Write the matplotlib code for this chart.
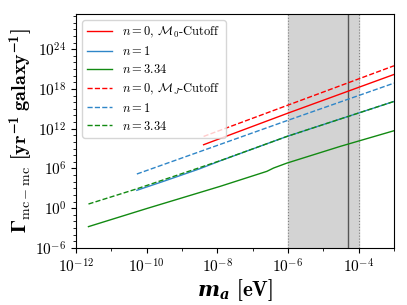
import numpy as np
import matplotlib
matplotlib.use("Agg")
import matplotlib.pyplot as plt

plt.rcParams['mathtext.fontset'] = 'cm'
plt.rcParams['font.family'] = 'serif'
plt.rcParams['font.serif'] = ['cmr10', 'DejaVu Serif']
plt.rcParams['axes.formatter.use_mathtext'] = True
plt.rcParams['axes.unicode_minus'] = False
plt.rcParams['mathtext.bfit'] = 'DejaVu Serif:italic:bold'
plt.rcParams['mathtext.rm'] = 'cmr10'
plt.rcParams['mathtext.it'] = 'cmmi10'
plt.rcParams['mathtext.bf'] = 'cmb10'
plt.rcParams['mathtext.fallback'] = 'stix'

# --- data ---
# n=0, M0-cutoff (solid red)
m_red_solid = [10**-8.39, 10**-6.0, 10**-3.0]
g_red_solid = [10**9.58, 10**14.35, 10**20.18]
# n=1 (solid blue)
m_blue_solid = [10**-10.28, 10**-9.5, 10**-8.5, 10**-7.92, 10**-6.03, 10**-3.0]
g_blue_solid = [10**2.70, 10**4.10, 10**5.95, 10**7.15, 10**10.83, 10**16.11]
# n=3.34 (solid green)
m_green_solid = [10**-11.65, 10**-10.0, 10**-7.92, 10**-6.6, 10**-6.41, 10**-6.03, 10**-4.52, 10**-3.0]
g_green_solid = [10**-2.78, 10**-0.05, 10**3.30, 10**5.56, 10**6.06, 10**6.81, 10**9.33, 10**11.69]
# n=0, MJ-cutoff (dashed red)
m_red_dash = [10**-8.39, 10**-3.0]
g_red_dash = [10**10.83, 10**21.49]
# n=1 (dashed blue)
m_blue_dash = [10**-10.28, 10**-6.01, 10**-3.0]
g_blue_dash = [10**5.16, 10**13.25, 10**18.87]
# n=3.34 (dashed green)
m_green_dash = [10**-11.65, 10**-10.30, 10**-7.92, 10**-6.03, 10**-3.0]
g_green_dash = [10**0.63, 10**2.89, 10**7.17, 10**10.83, 10**16.11]

band_lo, band_hi = 1e-6, 1e-4
m_vline = 5e-5

labels = [r'$n=0$, $\mathcal{M}_0$-Cutoff', r'$n=1$', r'$n=3.34$',
          r'$n=0$, $\mathcal{M}_J$-Cutoff', r'$n=1$', r'$n=3.34$']

red = '#ff0000'
blue = '#2f86c8'
green = '#128a12'

fig = plt.figure(figsize=(4.07, 3.05), dpi=100)
ax = fig.add_axes([0.187, 0.187, 0.781, 0.767])

ax.axvspan(band_lo, band_hi, color='lightgray', zorder=0)
ax.axvline(band_lo, color='gray', ls=':', lw=0.8, zorder=1)
ax.axvline(band_hi, color='gray', ls=':', lw=0.8, zorder=1)
ax.axvline(m_vline, color='#555555', ls='-', lw=1.0, zorder=1)

lw = 1.0
ax.plot(m_red_solid, g_red_solid, color=red, lw=lw, label=labels[0])
ax.plot(m_blue_solid, g_blue_solid, color=blue, lw=lw, label=labels[1])
ax.plot(m_green_solid, g_green_solid, color=green, lw=lw, label=labels[2])
ax.plot(m_red_dash, g_red_dash, color=red, lw=lw, ls='--', label=labels[3])
ax.plot(m_blue_dash, g_blue_dash, color=blue, lw=lw, ls='--', label=labels[4])
ax.plot(m_green_dash, g_green_dash, color=green, lw=lw, ls='--', label=labels[5])

ax.set_xscale('log')
ax.set_yscale('log')
ax.set_xlim(1e-12, 1e-3)
ax.set_ylim(1e-6, 10**29.3)

ax.xaxis.set_major_locator(matplotlib.ticker.LogLocator(base=100.0, numticks=20))
ax.xaxis.set_minor_locator(matplotlib.ticker.LogLocator(base=10.0, numticks=20))
ax.xaxis.set_minor_formatter(matplotlib.ticker.NullFormatter())
ax.yaxis.set_major_locator(matplotlib.ticker.FixedLocator([10.0**k for k in range(-6, 30, 6)]))
ax.yaxis.set_minor_locator(matplotlib.ticker.FixedLocator([10.0**k for k in range(-6, 30)]))
ax.yaxis.set_minor_formatter(matplotlib.ticker.NullFormatter())
ax.tick_params(axis='both', which='major', labelsize=11)

ax.set_xlabel(r'$\mathbfit{m_a}$ [eV]', fontsize=15, labelpad=1,
              family='cmb10', math_fontfamily='custom')
ax.set_ylabel(r'$\mathbf{\Gamma}_{\rm mc-mc}$ $\mathbf{[yr^{-1}}\;\mathbf{galaxy^{-1}]}$',
              fontsize=14.5, labelpad=0, math_fontfamily='custom')

ax.legend(loc='upper left', fontsize=9, labelspacing=0.4, framealpha=0.8)

fig.savefig('out.png', dpi=100)
